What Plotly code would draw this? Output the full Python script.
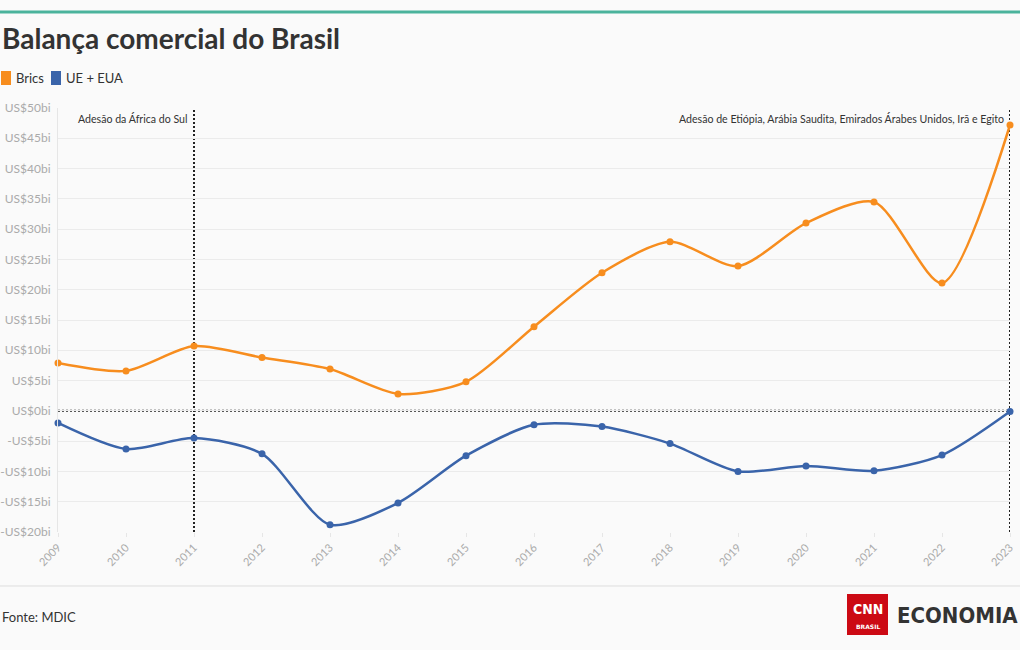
import plotly.graph_objects as go

# dados (US$ bilhões) - balança comercial do Brasil
anos = [2009, 2010, 2011, 2012, 2013, 2014, 2015, 2016, 2017, 2018, 2019, 2020, 2021, 2022, 2023]
brics = [7.9, 6.6, 10.7, 8.8, 6.9, 2.8, 4.8, 13.9, 22.8, 27.9, 23.9, 31.0, 34.5, 21.1, 47.2]
ue_eua = [-2.0, -6.3, -4.5, -7.1, -18.8, -15.2, -7.4, -2.3, -2.6, -5.4, -10.0, -9.1, -9.9, -7.3, -0.1]

y_ticks = [50, 45, 40, 35, 30, 25, 20, 15, 10, 5, 0, -5, -10, -15, -20]
y_labels = ['US$50bi', 'US$45bi', 'US$40bi', 'US$35bi', 'US$30bi', 'US$25bi', 'US$20bi', 'US$15bi',
            'US$10bi', 'US$5bi', 'US$0bi', '-US$5bi', '-US$10bi', '-US$15bi', '-US$20bi']

eventos_anos = [2011, 2023]
eventos_textos = ['Adesão da África do Sul',
                  'Adesão de Etiópia, Arábia Saudita, Emirados Árabes Unidos, Irã e Egito']

LARANJA = '#f78d1e'
AZUL = '#3a64aa'
FONTE = 'Lato'

W, H = 1020, 650
ML, MR, MT, MB = 58, 10, 108, 118
PW, PH = W - ML - MR, H - MT - MB


# pixel -> paper coords
def px(x):
    return (x - ML) / PW


def py(y):
    return (H - MB - y) / PH


fig = go.Figure()

fig.add_trace(go.Scatter(x=anos, y=brics, name='Brics', mode='lines+markers',
                         line=dict(color=LARANJA, width=2.5, shape='spline', smoothing=0.75),
                         marker=dict(size=7, color=LARANJA), cliponaxis=False))
fig.add_trace(go.Scatter(x=anos, y=ue_eua, name='UE + EUA', mode='lines+markers',
                         line=dict(color=AZUL, width=2.5, shape='spline', smoothing=0.75),
                         marker=dict(size=7, color=AZUL), cliponaxis=False))

shapes = []
# linha do zero
shapes.append(dict(type='line', xref='paper', yref='y', x0=0, x1=1, y0=0, y1=0,
                   line=dict(color='#222', width=2, dash='2px,2px'), layer='below'))
# linhas dos eventos
for ano in eventos_anos:
    shapes.append(dict(type='line', xref='x', yref='paper', x0=ano, x1=ano, y0=0, y1=1,
                       line=dict(color='#222', width=2, dash='2px,2px'), layer='below'))
# linha verde no topo
shapes.append(dict(type='line', xref='paper', yref='paper', x0=px(0), x1=px(W), y0=py(12), y1=py(12),
                   line=dict(color='#4bb39c', width=3)))
# separador do rodapé
shapes.append(dict(type='line', xref='paper', yref='paper', x0=px(0), x1=px(W), y0=py(586), y1=py(586),
                   line=dict(color='#dddddd', width=1)))
# legenda (quadrados)
shapes.append(dict(type='rect', xref='paper', yref='paper', x0=px(1), x1=px(11), y0=py(71), y1=py(85),
                   fillcolor=LARANJA, line=dict(width=0)))
shapes.append(dict(type='rect', xref='paper', yref='paper', x0=px(51), x1=px(61), y0=py(71), y1=py(85),
                   fillcolor=AZUL, line=dict(width=0)))
# logo CNN
shapes.append(dict(type='rect', xref='paper', yref='paper', x0=px(847), x1=px(888), y0=py(594), y1=py(635),
                   fillcolor='#cc0a14', line=dict(width=0)))

annotations = []
for ano, texto in zip(eventos_anos, eventos_textos):
    annotations.append(dict(x=ano, xref='x', y=py(118), yref='paper', text=texto, showarrow=False,
                            xanchor='right', yanchor='middle', xshift=-4,
                            font=dict(family=FONTE, size=10.6, color='#333')))

annotations += [
    dict(x=px(0), y=py(38), xref='paper', yref='paper', text='<b>Balança comercial do Brasil</b>',
         showarrow=False, xanchor='left', yanchor='middle', font=dict(family=FONTE, size=28, color='#333')),
    dict(x=px(14), y=py(78), xref='paper', yref='paper', text='Brics', showarrow=False,
         xanchor='left', yanchor='middle', font=dict(family=FONTE, size=13, color='#333')),
    dict(x=px(64), y=py(78), xref='paper', yref='paper', text='UE + EUA', showarrow=False,
         xanchor='left', yanchor='middle', font=dict(family=FONTE, size=13, color='#333')),
    dict(x=px(0), y=py(617), xref='paper', yref='paper', text='Fonte: MDIC', showarrow=False,
         xanchor='left', yanchor='middle', font=dict(family=FONTE, size=13, color='#333')),
    dict(x=px(867.5), y=py(609), xref='paper', yref='paper', text='<b>CNN</b>', showarrow=False,
         xanchor='center', yanchor='middle', font=dict(family='DejaVu Sans Condensed', size=14, color='white')),
    dict(x=px(867.5), y=py(626), xref='paper', yref='paper', text='<b>BRASIL</b>', showarrow=False,
         xanchor='center', yanchor='middle', font=dict(family='DejaVu Sans', size=6, color='white')),
    dict(x=px(1020), y=py(615), xref='paper', yref='paper', text='<b>ECONOMIA</b>', showarrow=False,
         xanchor='right', yanchor='middle', font=dict(family='DejaVu Sans Condensed', size=22, color='#333')),
]

fig.update_layout(
    width=W, height=H,
    margin=dict(l=ML, r=MR, t=MT, b=MB),
    paper_bgcolor='#fafafa', plot_bgcolor='#fafafa',
    showlegend=False,
    font=dict(family=FONTE),
    shapes=shapes,
    annotations=annotations,
)

fig.update_xaxes(range=[2009, 2023], tickvals=anos, tickangle=-45, showgrid=False, zeroline=False,
                 ticks='outside', ticklen=4, tickcolor='#e6e6e6', automargin=False,
                 tickfont=dict(family=FONTE, size=11, color='#aaaaaa'))
fig.update_yaxes(range=[-20, 50], tickvals=y_ticks, ticktext=y_labels, showgrid=True, gridcolor='#ebebeb',
                 zeroline=False, showline=True, linecolor='#e6e6e6', ticks='', ticklabelstandoff=4,
                 automargin=False, tickfont=dict(family=FONTE, size=12, color='#aaaaaa'))

fig.write_html("out.html", config={'displayModeBar': False},
               post_script="document.body.style.margin='0';document.body.style.overflow='hidden';")
